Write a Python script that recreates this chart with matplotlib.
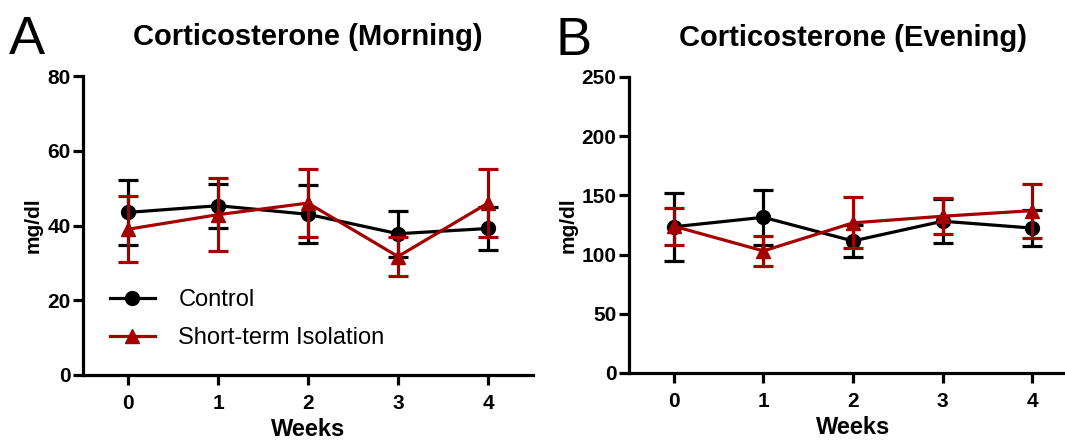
import matplotlib
matplotlib.use("Agg")
import matplotlib.pyplot as plt

plt.rcParams['font.family'] = ['Liberation Sans', 'DejaVu Sans']

weeks = [0, 1, 2, 3, 4]

# morning corticosterone (mg/dl)
am_control = [43.5, 45.3, 43.0, 37.8, 39.2]
am_control_err = [8.7, 5.9, 7.8, 6.2, 5.8]
am_isolation = [39.0, 42.9, 46.0, 31.7, 46.0]
am_isolation_err = [8.8, 9.8, 9.0, 5.3, 9.0]

# evening corticosterone (mg/dl)
pm_control = [123.5, 131.5, 111.5, 128.2, 122.4]
pm_control_err = [28.5, 23.4, 13.4, 18.8, 15.5]
pm_isolation = [124.0, 103.1, 126.8, 132.4, 137.1]
pm_isolation_err = [15.5, 12.7, 21.6, 15.4, 22.8]

red = '#a30000'
W, H = 1065, 441

fig = plt.figure(figsize=(W / 100, H / 100), dpi=100)
ax1 = fig.add_axes([83 / W, 1 - 375 / H, 450 / W, 299 / H])
ax2 = fig.add_axes([629 / W, 1 - 373 / H, 448 / W, 296 / H])


def panel(ax, ctrl, ctrl_err, iso, iso_err, ymax, step, title, letter):
    c = ax.errorbar(weeks, ctrl, yerr=ctrl_err, color='black', lw=2.3, marker='o',
                    ms=10, capsize=7, capthick=2.3, elinewidth=2.3,
                    clip_on=False, zorder=3)
    r = ax.errorbar(weeks, iso, yerr=iso_err, color=red, lw=2.3, marker='^',
                    ms=10, capsize=7, capthick=2.3, elinewidth=2.3,
                    clip_on=False, zorder=4)
    ax.set_xlim(-0.5, 4.5)
    ax.set_ylim(0, ymax)
    ax.set_xticks(weeks)
    ax.set_yticks(range(0, ymax + 1, step))
    for s in ['top', 'right']:
        ax.spines[s].set_visible(False)
    for s in ['left', 'bottom']:
        ax.spines[s].set_linewidth(2.3)
    ax.tick_params(width=2.3, length=7, labelsize=15)
    ax.tick_params(axis='y', pad=2)
    ax.tick_params(axis='x', pad=7)
    for lab in ax.get_xticklabels() + ax.get_yticklabels():
        lab.set_fontweight('bold')
    ax.set_xlabel('Weeks', fontsize=17, fontweight='bold', labelpad=3)
    ax.set_ylabel('mg/dl', fontsize=15, fontweight='bold', labelpad=3)
    ax.set_title(title, fontsize=21, fontweight='bold', pad=22)
    ax.text(-0.165, 1.075, letter, transform=ax.transAxes, fontsize=39)
    return c, r


c, r = panel(ax1, am_control, am_control_err, am_isolation, am_isolation_err,
             80, 20, 'Corticosterone (Morning)', 'A')
panel(ax2, pm_control, pm_control_err, pm_isolation, pm_isolation_err,
      250, 50, 'Corticosterone (Evening)', 'B')

ax1.legend([c[0], r[0]], ['Control', 'Short-term Isolation'],
           loc='center left', bbox_to_anchor=(0.06, 0.187), frameon=False,
           fontsize=17, handlelength=1.9, handletextpad=1.0,
           labelspacing=0.7, borderpad=0, borderaxespad=0)

fig.savefig('out.png', dpi=100)
